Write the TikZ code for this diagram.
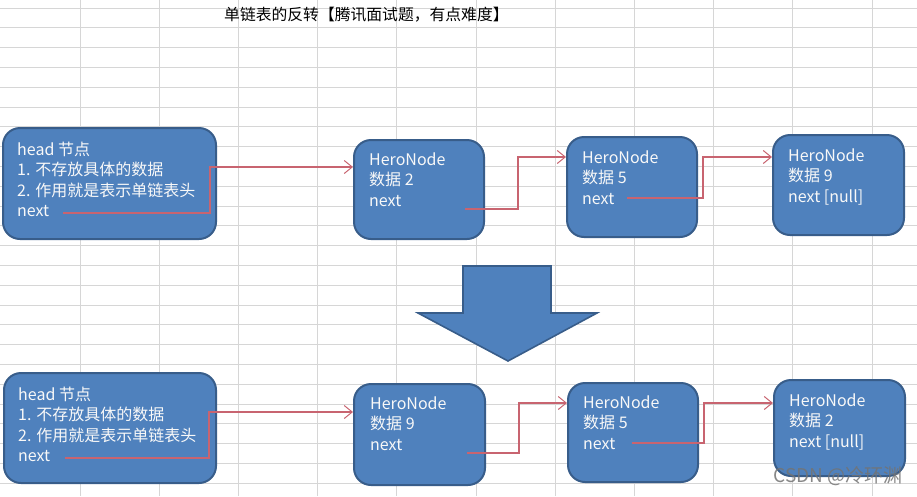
\documentclass[tikz,border=0pt]{standalone}
\usepackage{fontspec}
\setmainfont{Noto Sans CJK SC}
\usetikzlibrary{arrows.meta}
\definecolor{boxfill}{RGB}{79,129,189}
\definecolor{boxdraw}{RGB}{56,93,138}
\definecolor{gridc}{RGB}{214,214,214}
\definecolor{linkc}{RGB}{200,100,112}
\definecolor{txtc}{RGB}{248,248,248}
\tikzset{
  box/.style={draw=boxdraw, fill=boxfill, line width=2pt, rounded corners=17pt, inner sep=0pt},
  boxtxt/.style={anchor=north west, inner sep=0pt, align=left, text=txtc, font=\fontsize{16}{20.5}\selectfont},
  conn/.style={draw=linkc, line width=1.2pt, -{Straight Barb[length=8pt,width=13pt,line width=1pt]}},
  bigarrow/.style={draw=boxdraw, fill=boxfill, line width=1.6pt, line join=miter}
}
\begin{document}
\begin{tikzpicture}[x=1pt,y=-1pt]
\useasboundingbox (0,0) rectangle (917,496);
\fill[white] (0,0) rectangle (917,496);
% spreadsheet grid
\foreach \k in {1,...,11} {\draw[gridc, line width=0.8pt] ({0.8+79.2*\k},0) -- ({0.8+79.2*\k},496);}
\foreach \k in {0,...,24} {\draw[gridc, line width=0.8pt] (0,{8+19.8*\k}) -- (917,{8+19.8*\k});}
% title
\node[anchor=west, inner sep=0pt, font=\fontsize{15.8}{18}\selectfont] (title) at (224,15) {单链表的反转【腾讯面试题，有点难度】};
% ---- top row ----
\node[box, minimum width=213pt, minimum height=111pt] (h1) at (109.5,183.5) {};
\node[box, minimum width=130pt, minimum height=99pt] (a2) at (419,189.5) {};
\node[box, minimum width=130pt, minimum height=100pt] (a5) at (632,187) {};
\node[box, minimum width=131pt, minimum height=100pt] (a9) at (838.5,185) {};
\node[boxtxt] (h1t) at (17,140.6) {\strut head 节点\\1. 不存放具体的数据\\2. 作用就是表示单链表头\\next};
\node[boxtxt] (a2t) at (369,150.6) {\strut HeroNode\\数据 2\\next};
\node[boxtxt] (a5t) at (582,148.6) {\strut HeroNode\\数据 5\\next};
\node[boxtxt] (a9t) at (788,146.6) {\strut HeroNode\\数据 9\\next [null]};
\coordinate (h1s) at (63,213);
\coordinate (a2s) at (465,209);
\coordinate (a5s) at (627,198);
\draw[conn] (h1s) -| (210,167) -- (a2.west |- 0,167);
\draw[conn] (a2s) -| (518,157) -- (a5.west |- 0,157);
\draw[conn] (a5s) -| (703,157) -- (a9.west |- 0,157);
% ---- big arrow ----
\path[bigarrow] (463,266) -- (551,266) -- (551,313) -- (597,313) -- (508,361) -- (418,313) -- (463,313) -- cycle;
% ---- bottom row ----
\node[box, minimum width=212pt, minimum height=110pt] (h2) at (110,428) {};
\node[box, minimum width=131pt, minimum height=101pt] (b9) at (419.5,434.5) {};
\node[box, minimum width=130pt, minimum height=99pt] (b5) at (633,432.5) {};
\node[box, minimum width=131pt, minimum height=96pt] (b2) at (839.5,428) {};
\node[boxtxt] (h2t) at (18,385.6) {\strut head 节点\\1. 不存放具体的数据\\2. 作用就是表示单链表头\\next};
\node[boxtxt] (b9t) at (370,394.6) {\strut HeroNode\\数据 9\\next};
\node[boxtxt] (b5t) at (583,393.6) {\strut HeroNode\\数据 5\\next};
\node[boxtxt] (b2t) at (789,391.6) {\strut HeroNode\\数据 2\\next [null]};
\coordinate (h2s) at (65,458);
\coordinate (b9s) at (467,453);
\coordinate (b5s) at (632,443);
\draw[conn] (h2s) -| (209,412) -- (b9.west |- 0,412);
\draw[conn] (b9s) -| (519,403) -- (b5.west |- 0,403);
\draw[conn] (b5s) -| (704,403) -- (b2.west |- 0,403);
% watermark
\node[anchor=east, inner sep=0pt, text=black!55, opacity=0.85, font=\fontsize{19}{22}\selectfont] (wm) at (903,476) {CSDN @冷环渊};
\end{tikzpicture}
\end{document}
